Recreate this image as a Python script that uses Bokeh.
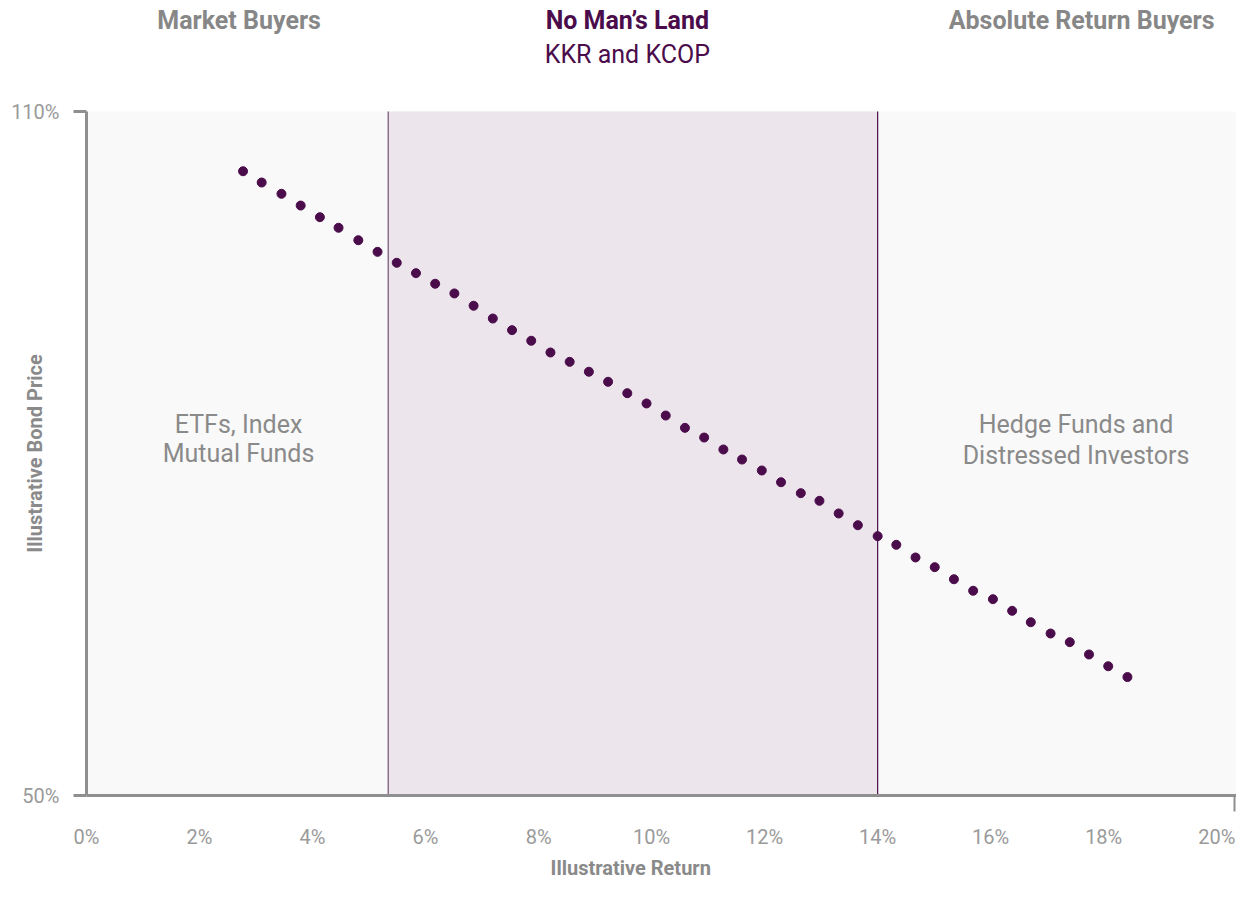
import math
from bokeh.plotting import figure
from bokeh.models import (ColumnDataSource, BoxAnnotation, FixedTicker,
                          PrintfTickFormatter, Range1d)
from bokeh.core.properties import value
from bokeh.embed import file_html
from bokeh.resources import INLINE

# ---------------- data ----------------
RETURN = [2.77, 3.10, 3.45, 3.79, 4.13, 4.46, 4.81, 5.15, 5.49, 5.83,
          6.17, 6.51, 6.85, 7.19, 7.53, 7.87, 8.21, 8.55, 8.89, 9.23,
          9.57, 9.91, 10.25, 10.59, 10.93, 11.27, 11.60, 11.95, 12.29, 12.64,
          12.97, 13.31, 13.65, 14.00, 14.33, 14.67, 15.01, 15.35, 15.69, 16.04,
          16.38, 16.71, 17.06, 17.40, 17.74, 18.08, 18.42]
PRICE = [104.76, 103.77, 102.78, 101.75, 100.73, 99.80, 98.71, 97.69, 96.73, 95.82,
         94.89, 94.04, 92.96, 91.84, 90.82, 89.89, 88.86, 88.04, 87.17, 86.29,
         85.29, 84.39, 83.33, 82.25, 81.40, 80.35, 79.47, 78.51, 77.48, 76.52,
         75.85, 74.74, 73.71, 72.75, 71.99, 70.88, 70.03, 68.97, 67.96, 67.22,
         66.20, 65.20, 64.21, 63.45, 62.37, 61.34, 60.39]

X_TICKS = [0, 2, 4, 6, 8, 10, 12, 14, 16, 18, 20]
Y_TICKS = [50, 110]
X_MAX = 20.35
BAND = [5.34, 14.0]

HEADERS = ["Market Buyers", "No Man\u2019s Land", "Absolute Return Buyers"]
SUBHEADER = "KKR and KCOP"
LEFT_NOTE = ["ETFs, Index", "Mutual Funds"]
RIGHT_NOTE = ["Hedge Funds and", "Distressed Investors"]
X_TITLE = "Illustrative Return"
Y_TITLE = "Illustrative Bond Price"

FONT = "Roboto"
PURPLE = "#4b0c4b"
GRAY_AXIS = "#8f8f8f"
GRAY_TEXT = "#8a8a8a"
HEAD_GRAY = "#878787"

# ---------------- geometry (screen layout only) ----------------
W, H = 1236, 882
LEFT_PX = 86                    # where 0% sits
BOTTOM_PX = 87                  # px below the 50% line
PX_PER_PCT_Y = 11.4
PX_PER_PCT_X = (W - LEFT_PX) / X_MAX
X_START = -LEFT_PX / PX_PER_PCT_X
Y_START = Y_TICKS[0] - BOTTOM_PX / PX_PER_PCT_Y
Y_TOP = Y_TICKS[0] + (H - BOTTOM_PX) / PX_PER_PCT_Y

# ---------------- figure ----------------
p = figure(width=W, height=H,
           x_range=Range1d(X_START, X_MAX), y_range=Range1d(Y_START, Y_TOP),
           output_backend="svg", toolbar_location=None,
           min_border=0,
           background_fill_color="white", border_fill_color="white",
           outline_line_color=None)
p.grid.visible = False

# light plot area (0..max, 50%..110%)
p.add_layout(BoxAnnotation(left=0, right=X_MAX, bottom=Y_TICKS[0], top=Y_TICKS[-1],
                           fill_color="#F9F9F9", fill_alpha=1.0,
                           line_color=None, level="underlay"))
# band "No Man's Land"
p.add_layout(BoxAnnotation(left=BAND[0], right=BAND[1], bottom=Y_TICKS[0],
                           top=Y_TICKS[-1], fill_color="#ECE5EC",
                           fill_alpha=1.0, line_color=None, level="underlay"))
p.segment(x0=BAND, x1=BAND, y0=[Y_TICKS[0]] * 2, y1=[Y_TICKS[-1]] * 2,
          line_color=["#8c6d8a", "#4d0b4c"], line_width=[1.5, 1.2])

# dots
src = ColumnDataSource(dict(x=RETURN, y=PRICE))
p.scatter("x", "y", source=src, size=9, fill_color=PURPLE, line_color=PURPLE)

# in-plot notes
note_src = ColumnDataSource(dict(
    x=[2.69, 2.69, 17.51, 17.51],
    y=[82.57, 79.96, 82.57, 79.83],
    text=LEFT_NOTE + RIGHT_NOTE))
p.text("x", "y", text="text", source=note_src, text_align="center",
       text_baseline="alphabetic", text_font=value(FONT),
       text_font_size="25px", text_color=GRAY_TEXT)

# headers above the plot area
head_src = ColumnDataSource(dict(
    x=[2.70, 9.57, 17.61], y=[117.96] * 3, text=HEADERS,
    color=[HEAD_GRAY, PURPLE, HEAD_GRAY]))
p.text("x", "y", text="text", source=head_src, text_align="center",
       text_baseline="alphabetic", text_font=value(FONT),
       text_font_size="25px", text_font_style="bold", text_color="color")
p.text(x=[9.57], y=[114.96], text=[SUBHEADER], text_align="center",
       text_baseline="alphabetic", text_font=value(FONT),
       text_font_size="25px", text_color=PURPLE)

# axis titles
p.text(x=[9.63], y=[43.65], text=[X_TITLE], text_align="center",
       text_baseline="alphabetic", text_font=value(FONT),
       text_font_size="20px", text_font_style="bold", text_color=GRAY_TEXT)
p.text(x=[-0.911], y=[80.0], text=[Y_TITLE], angle=math.pi / 2,
       text_align="center", text_baseline="middle", text_font=value(FONT),
       text_font_size="20px", text_font_style="bold", text_color=GRAY_TEXT)

# x axis (fixed at the 50% line)
xa = p.xaxis[0]
xa.fixed_location = Y_TICKS[0]
xa.bounds = (0, X_MAX)
xa.ticker = FixedTicker(ticks=X_TICKS, minor_ticks=[X_MAX - 0.03])
xa.formatter = PrintfTickFormatter(format="%d%%")
xa.axis_line_color = GRAY_AXIS
xa.axis_line_width = 3
xa.major_tick_line_color = None
xa.major_tick_in = 0
xa.major_tick_out = 0
xa.minor_tick_line_color = GRAY_AXIS
xa.minor_tick_line_width = 2
xa.minor_tick_in = 0
xa.minor_tick_out = 16
xa.major_label_standoff = 13
xa.major_label_text_font = FONT
xa.major_label_text_font_size = "20px"
xa.major_label_text_color = "#9a9a9a"

# y axis (fixed at 0%)
ya = p.yaxis[0]
ya.fixed_location = 0
ya.bounds = (Y_TICKS[0], Y_TICKS[-1])
ya.ticker = FixedTicker(ticks=Y_TICKS, minor_ticks=[])
ya.formatter = PrintfTickFormatter(format="%d%%")
ya.axis_line_color = GRAY_AXIS
ya.axis_line_width = 3
ya.major_tick_line_color = GRAY_AXIS
ya.major_tick_line_width = 3
ya.major_tick_in = 0
ya.major_tick_out = 13
ya.minor_tick_line_color = None
ya.major_label_standoff = 14
ya.major_label_text_font = FONT
ya.major_label_text_font_size = "20px"
ya.major_label_text_color = "#9a9a9a"

open("out.html", "w").write(file_html(p, INLINE))
